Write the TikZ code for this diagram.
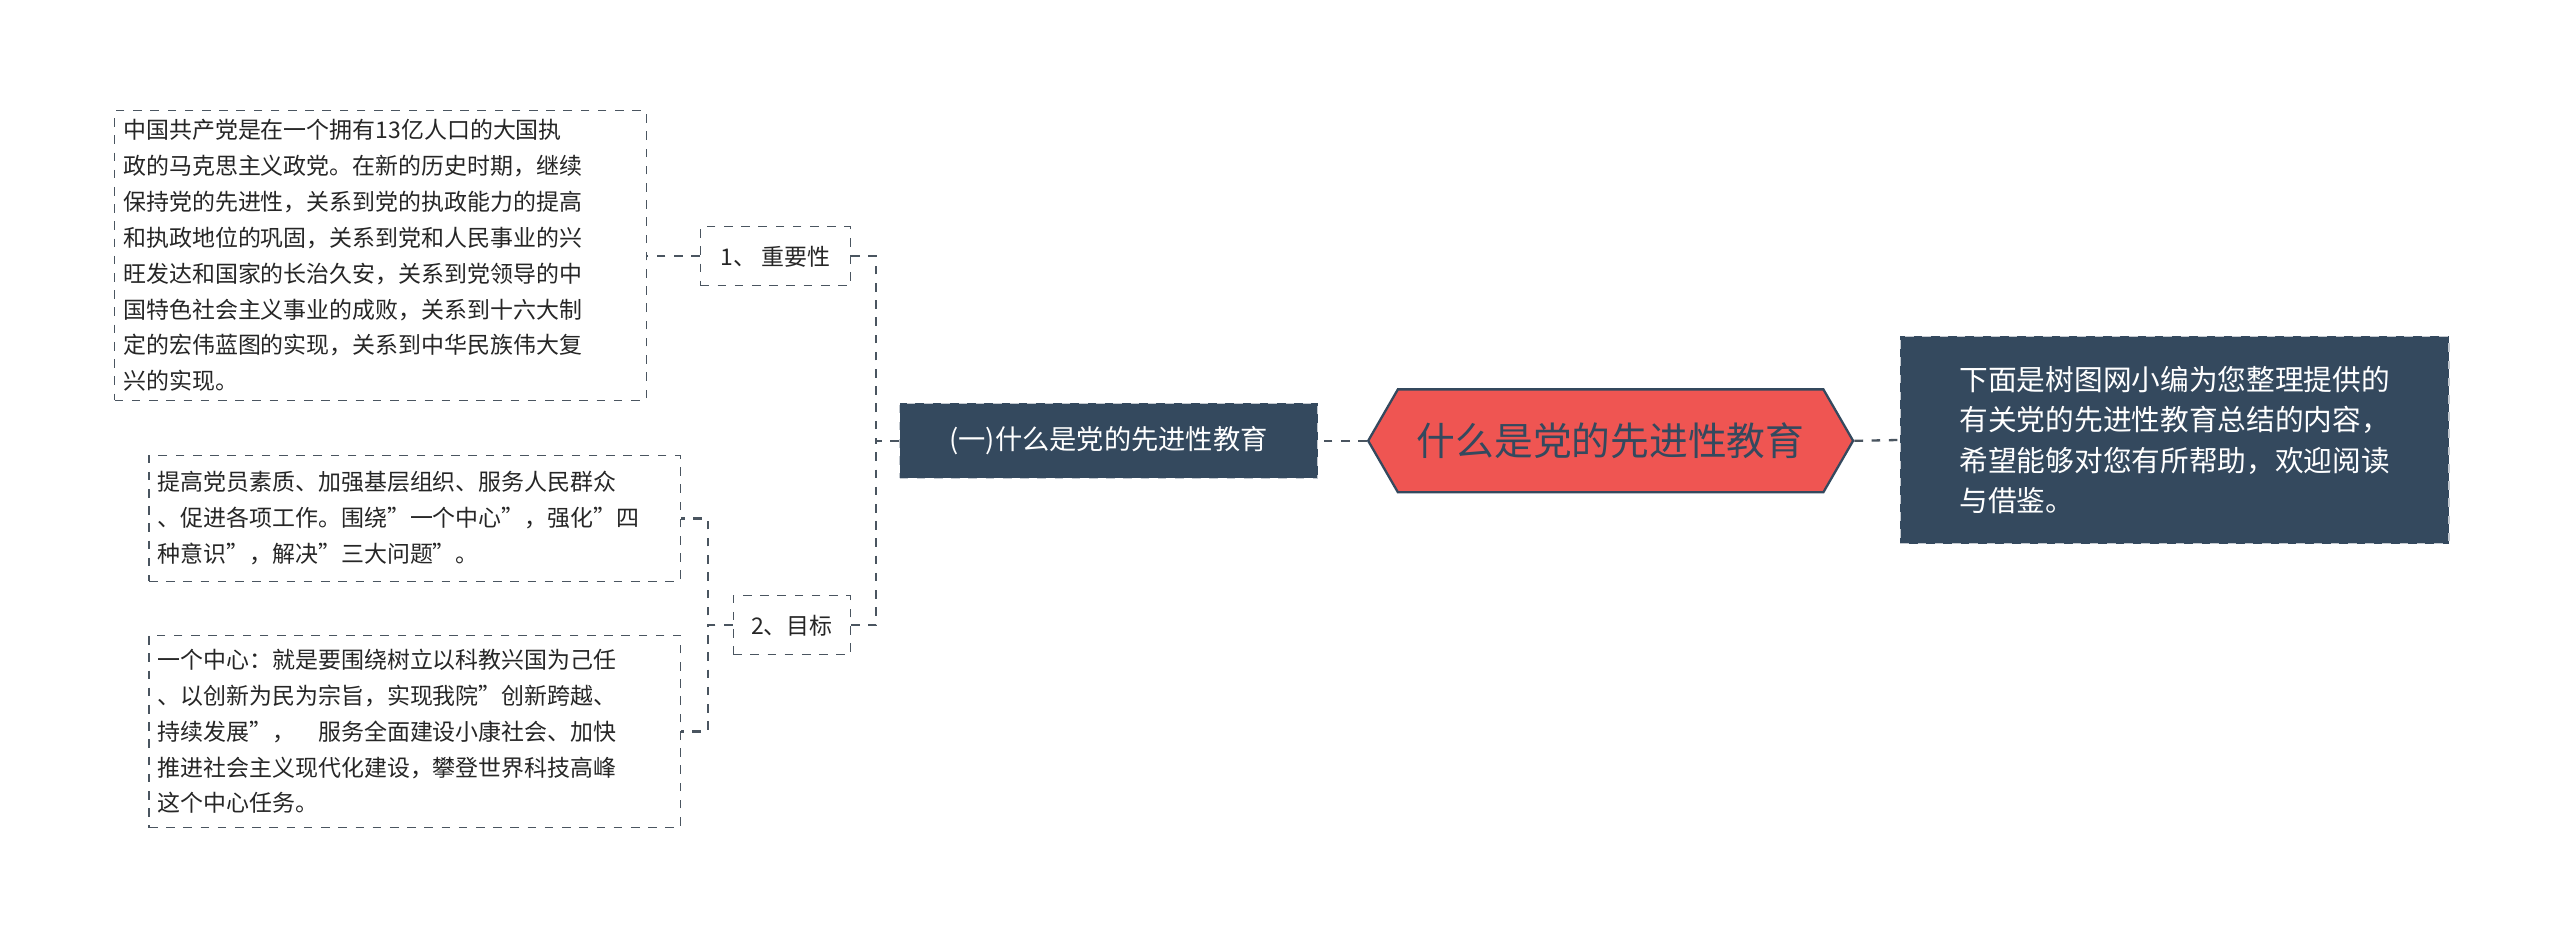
\documentclass[tikz,border=0pt]{standalone}
\usepackage{fontspec}
\setmainfont{Noto Sans CJK SC}
\usetikzlibrary{shapes.symbols}
\definecolor{darkbox}{HTML}{34495E}
\definecolor{redhex}{HTML}{EF5552}
\definecolor{linegray}{HTML}{4A5560}
\tikzset{
	leaf/.style={draw=linegray, dashed, fill=white, inner sep=3pt, align=left, font=\fontsize{8}{12.5}\selectfont, text=black!85},
	darknode/.style={draw=white!70!darkbox, dashed, fill=darkbox, text=white, align=left},
	link/.style={draw=linegray, dashed, thick}
}
\begin{document}
\begin{tikzpicture}
	\useasboundingbox[fill=white] (0,0) rectangle (31.36,11.5);

	%root and the note on its right
	\node[signal, signal to=east and west, signal pointer angle=120, draw=darkbox, thick, fill=redhex,
		minimum width=5.94cm, minimum height=1.26cm, inner sep=0pt, font=\fontsize{13.5}{16}\selectfont, text=darkbox]
		(root) at (19.73,6.1) {什么是党的先进性教育};
	\node[darknode, minimum width=6.72cm, minimum height=2.54cm, font=\fontsize{10}{14}\selectfont]
		(note) at (26.64,6.11) {下面是树图网小编为您整理提供的\\有关党的先进性教育总结的内容，\\希望能够对您有所帮助，欢迎阅读\\与借鉴。};

	%first level
	\node[darknode, minimum width=5.12cm, minimum height=0.92cm, font=\fontsize{9.5}{12}\selectfont]
		(what) at (13.58,6.1) {(一)什么是党的先进性教育};

	%second level
	\node[leaf, minimum width=1.84cm, minimum height=0.72cm, align=center] (imp) at (9.5,8.36) {1、 重要性};
	\node[leaf, minimum width=1.44cm, minimum height=0.72cm, align=center] (goal) at (9.7,3.84) {2、目标};

	%leaves
	\node[leaf, text width=6.3cm, minimum height=3.54cm] (txtA) at (4.66,8.37)
		{中国共产党是在一个拥有13亿人口的大国执\\政的马克思主义政党。在新的历史时期，继续\\保持党的先进性，关系到党的执政能力的提高\\和执政地位的巩固，关系到党和人民事业的兴\\旺发达和国家的长治久安，关系到党领导的中\\国特色社会主义事业的成败，关系到十六大制\\定的宏伟蓝图的实现，关系到中华民族伟大复\\兴的实现。};
	\node[leaf, text width=6.3cm, minimum height=1.54cm] (txtB) at (5.08,5.15)
		{提高党员素质、加强基层组织、服务人民群众\\、促进各项工作。围绕"一个中心"，强化"四\\种意识"，解决"三大问题"。};
	\node[leaf, text width=6.3cm, minimum height=2.36cm] (txtC) at (5.08,2.54)
		{一个中心：就是要围绕树立以科教兴国为己任\\、以创新为民为宗旨，实现我院"创新跨越、\\持续发展"，\quad 服务全面建设小康社会、加快\\推进社会主义现代化建设，攀登世界科技高峰\\这个中心任务。};

	%connectors
	\draw[link] (root.west) -- (what.east);
	\draw[link] (root.east) -- (note.west);
	\draw[link] (what.west) -- ++(-0.28,0) |- (imp.east);
	\draw[link] (what.west) -- ++(-0.28,0) |- (goal.east);
	\draw[link] (imp.west) -- (txtA.east |- imp.west);
	\draw[link] (goal.west) -- ++(-0.3,0) |- (txtB.east);
	\draw[link] (goal.west) -- ++(-0.3,0) |- (txtC.east);
\end{tikzpicture}
\end{document}
